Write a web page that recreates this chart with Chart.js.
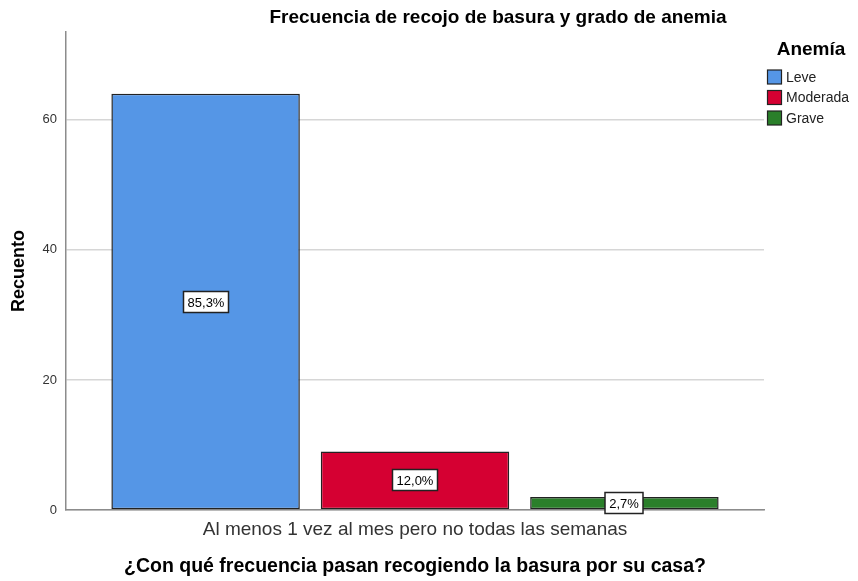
<!DOCTYPE html>
<html>
<head>
<meta charset="utf-8">
<script src="https://cdn.jsdelivr.net/npm/chart.js@4/dist/chart.umd.min.js"></script>
<style>
  html, body { margin: 0; padding: 0; background: #fff; }
  #wrap { width: 858px; height: 581px; }
</style>
</head>
<body>
<div id="wrap"><canvas id="chart" width="858" height="581"></canvas></div>
<script>
// data
const categories = ['Al menos 1 vez al mes pero no todas las semanas'];
const seriesNames = ['Leve', 'Moderada', 'Grave'];
const leveCounts = [64];
const moderadaCounts = [9];
const graveCounts = [2];
const percentLabels = ['85,3%', '12,0%', '2,7%'];
const yTickValues = [0, 20, 40, 60];
const seriesColors = ['#5596e6', '#d50032', '#2a7f2a'];

const FONT = "'Liberation Sans', Arial, sans-serif";

// title drawn above the plot, legend on the right (SPSS style)
const headerPlugin = {
    id: 'header',
    afterDraw(chart) {
        const ctx = chart.ctx;
        ctx.save();
        ctx.fillStyle = '#000';
        ctx.textBaseline = 'middle';
        ctx.textAlign = 'center';
        ctx.font = 'bold 19px ' + FONT;
        ctx.fillText('Frecuencia de recojo de basura y grado de anemia', 498, 18);

        // legend
        ctx.fillText('Anemía', 811, 50);
        ctx.textAlign = 'left';
        ctx.font = '14px ' + FONT;
        seriesNames.forEach((name, i) => {
            const y = 77 + i * 20.5;
            ctx.fillStyle = seriesColors[i];
            ctx.fillRect(767.5, y - 7, 14, 14);
            ctx.strokeStyle = '#222';
            ctx.lineWidth = 1.2;
            ctx.strokeRect(767.5, y - 7, 14, 14);
            ctx.fillStyle = '#222';
            ctx.fillText(name, 786, y + 1);
        });
        ctx.restore();
    }
};

// boxed percentage labels in the middle of each bar
const boxLabelPlugin = {
    id: 'boxLabels',
    afterDatasetsDraw(chart) {
        const ctx = chart.ctx;
        ctx.save();
        ctx.font = '13px ' + FONT;
        ctx.textAlign = 'center';
        ctx.textBaseline = 'middle';
        chart.data.datasets.forEach((ds, i) => {
            const bar = chart.getDatasetMeta(i).data[0];
            const cx = Math.round(bar.x);
            const cy = Math.round((bar.y + bar.base) / 2);
            const text = percentLabels[i];
            const w = Math.round(ctx.measureText(text).width) + 8;
            const h = 21;
            ctx.fillStyle = '#fff';
            ctx.fillRect(cx - w / 2, cy - h / 2, w, h);
            ctx.strokeStyle = '#222';
            ctx.lineWidth = 1.5;
            ctx.strokeRect(cx - w / 2, cy - h / 2, w, h);
            ctx.fillStyle = '#000';
            ctx.fillText(text, cx, cy + 1);
        });
        ctx.restore();
    }
};

const datasetValues = [leveCounts, moderadaCounts, graveCounts];

new Chart(document.getElementById('chart'), {
    type: 'bar',
    data: {
        labels: categories,
        datasets: seriesNames.map((name, i) => ({
            label: name,
            data: datasetValues[i],
            backgroundColor: seriesColors[i],
            borderColor: '#222',
            borderWidth: 1.5,
            borderSkipped: false,
            categoryPercentage: 0.9,
            barPercentage: 0.9
        }))
    },
    options: {
        responsive: false,
        animation: false,
        layout: { padding: { top: 32, right: 94, left: 0, bottom: 0 } },
        plugins: {
            legend: { display: false },
            title: { display: false },
            tooltip: { enabled: false }
        },
        scales: {
            x: {
                grid: { display: false, drawTicks: false },
                border: { display: true, color: '#8c8c8c', width: 1.5 },
                ticks: { color: '#333', font: { family: FONT, size: 19 }, padding: 8 },
                title: {
                    display: true,
                    text: '¿Con qué frecuencia pasan recogiendo la basura por su casa?',
                    color: '#000',
                    font: { family: FONT, size: 19.5, weight: 'bold' },
                    padding: { top: 0, bottom: 3 }
                },
                afterFit(scale) { scale.height = 71; }
            },
            y: {
                min: 0,
                max: 73.5,
                afterBuildTicks(scale) {
                    scale.ticks = yTickValues.map(v => ({ value: v }));
                },
                grid: { color: '#d6d6d6', lineWidth: 1.5, drawTicks: false },
                border: { display: true, color: '#8c8c8c', width: 1.5 },
                ticks: { color: '#333', font: { family: FONT, size: 13 }, padding: 9 },
                title: {
                    display: true,
                    text: 'Recuento',
                    color: '#000',
                    font: { family: FONT, size: 18, weight: 'bold' },
                    padding: { top: 8, bottom: 0 }
                },
                afterFit(scale) { scale.width = 66; }
            }
        }
    },
    plugins: [headerPlugin, boxLabelPlugin]
});
</script>
</body>
</html>
